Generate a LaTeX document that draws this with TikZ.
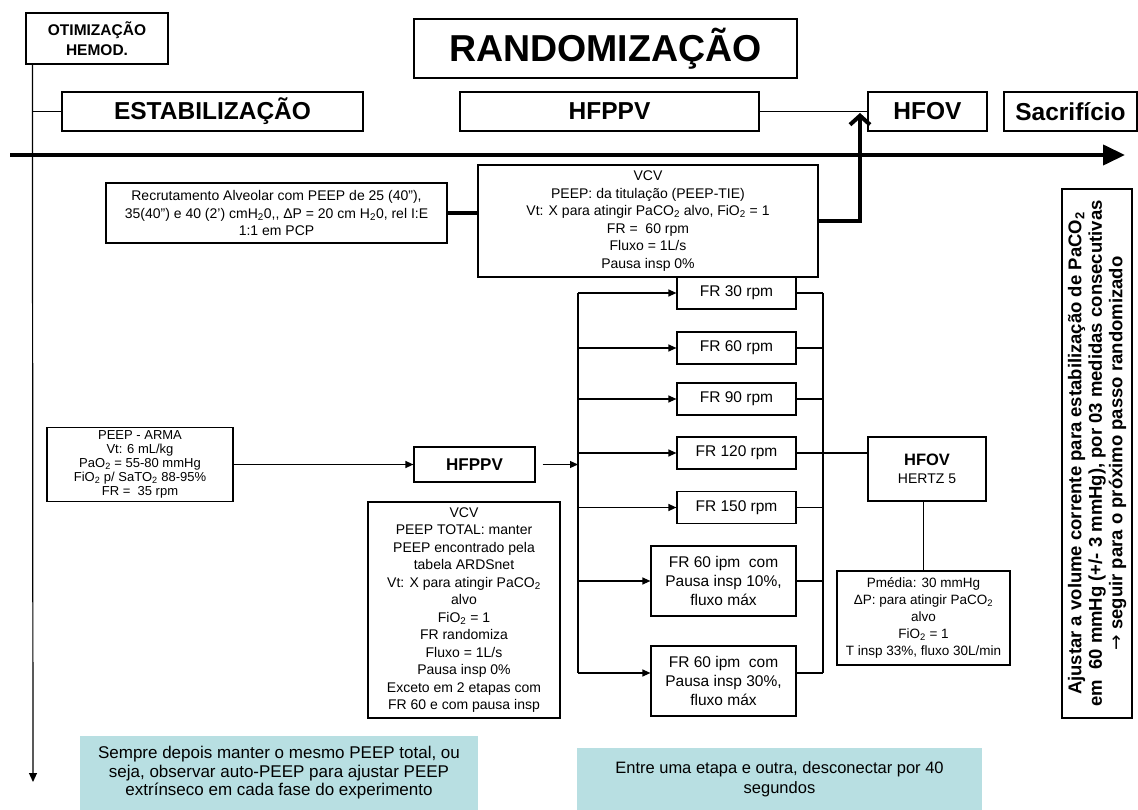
\documentclass[tikz,border=0pt]{standalone}
\usepackage{fontspec}
\setmainfont{Liberation Sans}
\newfontfamily\arrowfont{DejaVu Sans}
\definecolor{notecyan}{RGB}{184,223,226}
\usetikzlibrary{arrows.meta, positioning, calc}

\newcommand{\ftbody}{\fontsize{14}{17.5}\selectfont}
\newcommand{\ftarma}{\fontsize{13}{14}\selectfont}
\newcommand{\ftfr}{\fontsize{15.5}{19}\selectfont}
\newcommand{\ftnote}{\fontsize{17}{18.5}\selectfont}
\newcommand{\ftside}{\bfseries\fontsize{18.5}{20.5}\selectfont}

\begin{document}
\begin{tikzpicture}[x=1pt, y=-1pt,
  box/.style={draw=black, line width=1.2pt, fill=white, align=center, inner sep=2pt},
  headbox/.style={box, font=\bfseries\fontsize{24.5}{28}\selectfont, minimum height=39},
  frbox/.style={box, font=\ftfr, minimum width=119, minimum height=32},
  ipmbox/.style={box, font=\ftfr, minimum width=145, minimum height=70},
  note/.style={fill=notecyan, align=center, inner sep=2pt},
  link/.style={line width=1.2pt},
  arr/.style={link, -{Triangle[length=8pt,width=7pt]}},
  thicklink/.style={line width=4pt}]

  \useasboundingbox (0,0) rectangle (1138,810);

  % top row
  \node[box, font=\bfseries\fontsize{15.5}{19.5}\selectfont, minimum width=142, minimum height=51] (otim) at (97,38.5) {OTIMIZAÇÃO\\HEMOD.};
  \node[box, font=\bfseries\fontsize{37.5}{42}\selectfont, minimum width=383, minimum height=59] (rand) at (605.5,48.5) {RANDOMIZAÇÃO};
  \node[headbox, minimum width=301] (estab) at (212.5,111.5) {ESTABILIZAÇÃO};
  \node[headbox, minimum width=299] (hfppv) at (609.5,111.5) {HFPPV};
  \node[headbox, minimum width=119] (hfov) at (927.5,111.5) {HFOV};
  \node[headbox, minimum width=133] (sacrif) at (1070.5,111.5) {Sacrifício};

  \coordinate (tlstart) at (10,155);
  \coordinate (tlend) at (1125,155);
  \draw[thicklink, -{Triangle[length=22pt,width=20pt]}] (tlstart) -- (tlend);

  \coordinate (axisend) at (33,782);
  \draw[link, -{Triangle[length=9pt,width=8pt]}] ([xshift=7pt]otim.south west) -- (axisend);
  \draw[link] (estab.west) -- (estab.west -| axisend);
  \draw[link] (hfppv.east) -- (hfov.west);

  % recrutamento
  \node[box, font=\ftbody, minimum width=341, minimum height=60] (recrut) at (276.5,213)
    {Recrutamento Alveolar com PEEP de 25 (40”),\\35(40”) e 40 (2’) cmH\textsubscript{2}0,{},{} ΔP = 20 cm H\textsubscript{2}0, rel I:E\\1:1 em PCP};
  \node[box, font=\ftbody, minimum width=340, minimum height=112] (vcvtop) at (648,221)
    {VCV\\PEEP: da titulação (PEEP-TIE)\\Vt: X para atingir PaCO\textsubscript{2} alvo, FiO\textsubscript{2} = 1\\FR =~ 60 rpm\\Fluxo = 1L/s\\Pausa insp 0\%};
  \coordinate (hfovin) at (860,113);
  \draw[thicklink] (recrut.east) -- (recrut.east -| vcvtop.west);
  \draw[thicklink, -{Straight Barb[length=9pt,width=20pt]}] (vcvtop.east) -| (hfovin);

  % ajuste
  \node[box, font=\ftside, rotate=90, minimum width=529, minimum height=70] (ajuste) at (1097,453.5)
    {Ajustar a volume corrente para estabilização de PaCO\textsubscript{2}\\em~ 60 mmHg (+/- 3 mmHg), por 03 medidas consecutivas\\{\arrowfont\mdseries →} seguir para o próximo passo randomizado};

  % HFPPV
  \node[box, font=\ftarma, minimum width=186, minimum height=74] (peeparma) at (140,464.5)
    {PEEP - ARMA\\Vt: 6 mL/kg\\PaO\textsubscript{2} = 55-80 mmHg\\FiO\textsubscript{2} p/ SaTO\textsubscript{2} 88-95\%\\FR =~ 35 rpm};
  \node[box, font=\bfseries\fontsize{17}{20}\selectfont, minimum width=121, minimum height=35] (hfppvmid) at (474.5,464.5) {HFPPV};
  \node[box, font=\ftbody, minimum width=192, minimum height=216] (vcvlow) at (464,610)
    {VCV\\PEEP TOTAL: manter\\PEEP encontrado pela\\tabela ARDSnet\\Vt: X para atingir PaCO\textsubscript{2}\\alvo\\FiO\textsubscript{2} = 1\\FR randomiza\\Fluxo = 1L/s\\Pausa insp 0\%\\Exceto em 2 etapas com\\FR 60 e com pausa insp};

  \node[frbox] (fr30) at (736.5,293) {FR 30 rpm};
  \node[frbox] (fr60) at (736.5,348) {FR 60 rpm};
  \node[frbox] (fr90) at (736.5,399) {FR 90 rpm};
  \node[frbox] (fr120) at (736.5,453) {FR 120 rpm};
  \node[frbox] (fr150) at (736.5,507.5) {FR 150 rpm};
  \node[ipmbox] (ipm10) at (723.5,581) {FR 60 ipm~ com\\Pausa insp 10\%,\\fluxo máx};
  \node[ipmbox] (ipm30) at (723.5,681) {FR 60 ipm~ com\\Pausa insp 30\%,\\fluxo máx};

  \coordinate (spltop) at (578,293);
  \coordinate (splbot) at (578,673);
  \coordinate (coltop) at (823,293);
  \coordinate (colbot) at (823,673);
  \draw[arr] (peeparma.east) -- (hfppvmid.west);
  \draw[arr, shorten <=7pt] (hfppvmid.east) -- (hfppvmid.east -| spltop);
  \draw[link] (spltop) -- (splbot);
  \draw[link] (coltop) -- (colbot);
  \foreach \b in {fr30,fr60,fr90,fr120,fr150,ipm10}{
    \draw[arr] (\b.west -| spltop) -- (\b.west);
  }
  \draw[arr] (splbot) -- (splbot -| ipm30.west);
  \foreach \b in {fr30,fr60,fr90,fr150,ipm10}{
    \draw[link] (\b.east) -- (\b.east -| coltop);
  }
  \draw[link] (colbot -| ipm30.east) -- (colbot);

  % HFOV
  \node[box, minimum width=118, minimum height=64] (hfovmid) at (927,469)
    {{\bfseries\fontsize{16.5}{20}\selectfont HFOV}\\[6pt]{\fontsize{14}{17}\selectfont HERTZ 5}};
  \node[box, font=\fontsize{13.5}{17}\selectfont, minimum width=173, minimum height=94] (hfovlow) at (923.5,618)
    {Pmédia: 30 mmHg\\ΔP: para atingir PaCO\textsubscript{2}\\alvo\\FiO\textsubscript{2} = 1\\T insp 33\%, fluxo 30L/min};
  \draw[link] (fr120.east) -- (fr120.east -| hfovmid.west);
  \draw[link] (hfovlow.north) -- (hfovlow.north |- hfovmid.south);

  % notes
  \node[note, font=\ftnote, minimum width=398, minimum height=74] (notepeep) at (279,773)
    {Sempre depois manter o mesmo PEEP total, ou\\seja, observar auto-PEEP para ajustar PEEP\\extrínseco em cada fase do experimento};
  \node[note, font=\fontsize{16.5}{20}\selectfont, minimum width=405, minimum height=62] (notedesc) at (779.5,779)
    {Entre uma etapa e outra, desconectar por 40\\segundos};
\end{tikzpicture}
\end{document}
